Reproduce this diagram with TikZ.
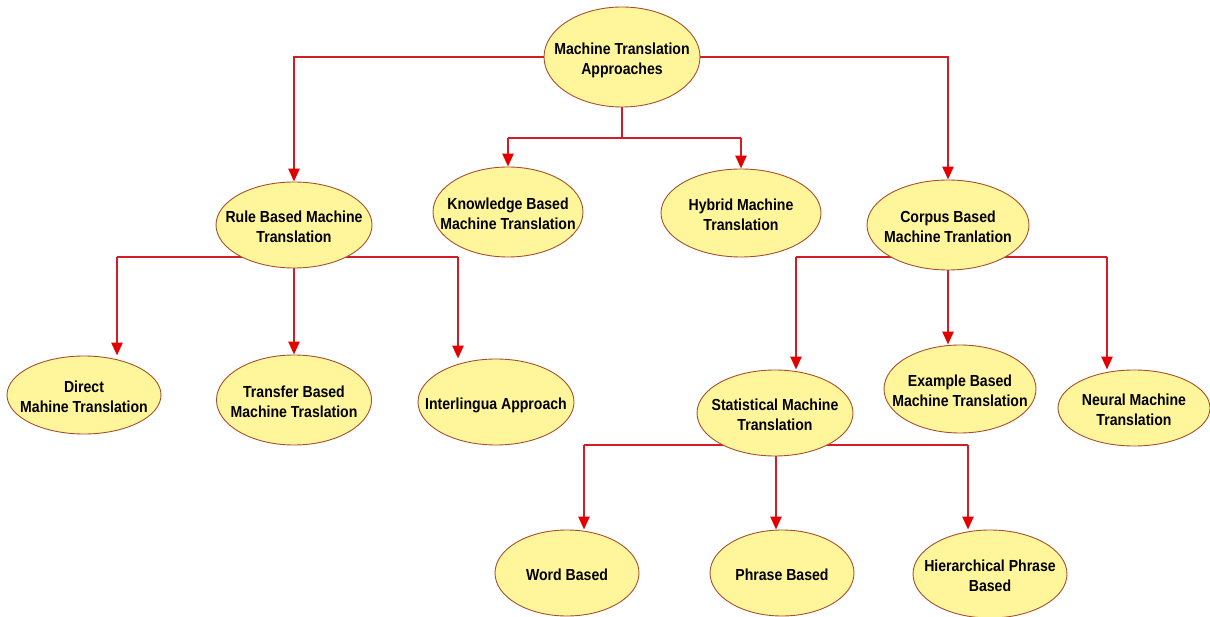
\documentclass[tikz,border=0pt]{standalone}
\usepackage{fontspec}
\setmainfont{Liberation Sans}[FakeStretch=0.88]
\usetikzlibrary{arrows.meta,shapes.geometric,backgrounds}
\definecolor{nodefill}{RGB}{255,245,155}
\definecolor{nodeedge}{RGB}{165,80,45}
\definecolor{linkred}{RGB}{210,28,38}
% label of zero size, so that the ellipse takes exactly its minimum size
\newcommand{\lbl}[1]{\makebox[0pt]{\smash{\raisebox{-8pt}{\begin{tabular}[c]{@{}c@{}}#1\end{tabular}}}}}
\begin{document}
\begin{tikzpicture}[x=1pt,y=-1pt,
  ell/.style={ellipse,draw=nodeedge,line width=0.9pt,fill=nodefill,inner sep=0pt,
    font=\fontsize{16}{19.5}\selectfont\bfseries},
  link/.style={draw=linkred,line width=2.5pt},
  arr/.style={link,-{Triangle[length=13pt,width=11pt,color=red!90!black]}}]
\useasboundingbox (0,0) rectangle (1210,617);
% nodes
\node[ell,minimum width=156pt,minimum height=100pt] (top) at (622,57) {\lbl{Machine Translation\\Approaches}};
\node[ell,minimum width=156pt,minimum height=86pt] (rule) at (294,225) {\lbl{Rule Based Machine\\Translation}};
\node[ell,minimum width=150pt,minimum height=90pt] (know) at (508,212) {\lbl{Knowledge Based\\Machine Translation}};
\node[ell,minimum width=160pt,minimum height=88pt] (hyb) at (741,213) {\lbl{Hybrid Machine\\Translation}};
\node[ell,minimum width=162pt,minimum height=90pt] (corpus) at (948,225) {\lbl{Corpus Based\\Machine Tranlation}};
\node[ell,minimum width=154pt,minimum height=78pt] (direct) at (84,395) {\lbl{Direct\\Mahine Translation}};
\node[ell,minimum width=155pt,minimum height=90pt] (transfer) at (294,400) {\lbl{Transfer Based\\Machine Traslation}};
\node[ell,minimum width=156pt,minimum height=86pt] (inter) at (496,402) {\lbl{Interlingua Approach}};
\node[ell,minimum width=156pt,minimum height=86pt] (stat) at (775,413) {\lbl{Statistical Machine\\Translation}};
\node[ell,minimum width=152pt,minimum height=88pt] (example) at (960,389) {\lbl{Example Based\\Machine Translation}};
\node[ell,minimum width=152pt,minimum height=76pt] (neural) at (1134,408) {\lbl{Neural Machine\\Translation}};
\node[ell,minimum width=144pt,minimum height=86pt] (word) at (567,573) {\lbl{Word Based}};
\node[ell,minimum width=144pt,minimum height=86pt] (phrase) at (782,573) {\lbl{Phrase Based}};
\node[ell,minimum width=154pt,minimum height=88pt] (hier) at (990,574) {\lbl{Hierarchical Phrase\\Based}};
% junction coordinates
\coordinate (mid) at (622,138);
\coordinate (rbL) at (117,257);
\coordinate (rbR) at (458,257);
\coordinate (cbL) at (796,257);
\coordinate (cbR) at (1107,257);
\coordinate (sbL) at (584,445);
\coordinate (sbM) at (776,445);
\coordinate (sbR) at (968,445);
\begin{pgfonlayer}{background}
% from the root
\draw[arr] (top.west) -| (rule.north);
\draw[arr] (top.east) -| (corpus.north);
\draw[link] (top.south) -- (mid);
\draw[link] (know.north |- mid) -- (hyb.north |- mid);
\draw[arr] (know.north |- mid) -- (know.north);
\draw[arr] (hyb.north |- mid) -- (hyb.north);
% rule based children
\draw[link] (rbL) -- (rbR);
\draw[arr] (rbL) -- (rbL |- direct.north);
\draw[arr] (rule.south |- rbL) -- (transfer.north);
\draw[arr] (rbR) -- (rbR |- inter.north);
% corpus based children
\draw[link] (cbL) -- (cbR);
\draw[arr] (cbL) -- (cbL |- stat.north);
\draw[arr] (corpus.south) -- (corpus.south |- example.north);
\draw[arr] (cbR) -- (cbR |- neural.north);
% statistical children
\draw[link] (sbL) -- (sbR);
\draw[link] (stat.south) -- (stat.south |- sbM);
\draw[arr] (sbL) -- (sbL |- word.north);
\draw[arr] (sbM) -- (sbM |- phrase.north);
\draw[arr] (sbR) -- (sbR |- hier.north);
\end{pgfonlayer}
\end{tikzpicture}
\end{document}
